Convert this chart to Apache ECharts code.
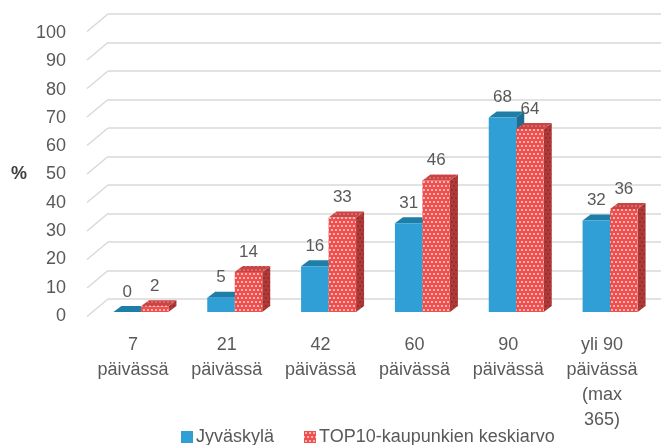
<!DOCTYPE html>
<html>
<head>
<meta charset="utf-8">
<script src="https://cdn.jsdelivr.net/npm/echarts@6/dist/echarts.min.js"></script>
<style>
html,body{margin:0;padding:0;background:#fff;}
#chart{width:661px;height:445px;}
</style>
</head>
<body>
<div id="chart"></div>
<script>
const categories = ['7\npäivässä', '21\npäivässä', '42\npäivässä', '60\npäivässä', '90\npäivässä', 'yli 90\npäivässä\n(max\n365)'];
const seriesNames = ['Jyväskylä', 'TOP10-kaupunkien keskiarvo'];
const jyvaskyla = [0, 5, 16, 31, 68, 32];
const top10 = [2, 14, 33, 46, 64, 36];
const yTicks = [0, 10, 20, 30, 40, 50, 60, 70, 80, 90, 100];

function makePattern(bg, dot) {
  const c = document.createElement('canvas');
  c.width = 8; c.height = 8;
  const g = c.getContext('2d');
  g.fillStyle = bg; g.fillRect(0, 0, 8, 8);
  g.fillStyle = dot;
  [[2, 2], [6, 2], [0, 6], [4, 6], [8, 6]].forEach(p => {
    g.beginPath(); g.arc(p[0], p[1], 0.95, 0, Math.PI * 2); g.fill();
  });
  return { image: c, repeat: 'repeat' };
}
const redFront = makePattern('#ef4f4d', '#ffe0de');
const redSide = makePattern('#b03a38', '#8c2a29');
const redTop = makePattern('#c94543', '#e27a78');

const palette = [
  { front: '#2f9fd6', top: '#1f7ea8', side: '#1b6d92' },
  { front: redFront, top: redTop, side: redSide }
];

const FONT = 'Liberation Sans';
const TXT = '#595959';

function barRenderer(si) {
  return function (params, api) {
    const idx = api.value(0), val = api.value(1);
    const base = api.coord([idx, 0]);
    const top = api.coord([idx, val]);
    const bw = api.size([1, 0])[0];
    const w = bw * 0.293;
    const x0 = si === 0 ? base[0] - w : base[0];
    const x1 = x0 + w;
    const yb = base[1], yt = top[1];
    const dx = 8, dy = -6;
    const col = palette[si];
    return {
      type: 'group',
      children: [
        { type: 'polygon', shape: { points: [[x1, yt], [x1 + dx, yt + dy], [x1 + dx, yb + dy], [x1, yb]] }, style: { fill: col.side } },
        { type: 'polygon', shape: { points: [[x0, yt], [x0 + dx, yt + dy], [x1 + dx, yt + dy], [x1, yt]] }, style: { fill: col.top } },
        { type: 'rect', shape: { x: x0, y: yt, width: w, height: yb - yt }, style: { fill: col.front } },
        { type: 'text', style: { text: String(val), x: (x0 + x1) / 2, y: yt - 20, align: 'center', verticalAlign: 'middle', fill: TXT, font: '17px "' + FONT + '"' } }
      ]
    };
  };
}

const chart = echarts.init(document.getElementById('chart'), null, { renderer: 'canvas' });
const option = {
  animation: false,
  backgroundColor: '#fff',
  textStyle: { fontFamily: FONT },
  grid: [
    { left: 108, right: 0, top: 14, height: 285 },
    { left: 86, right: 12, top: 33, height: 283 },
    { left: 94, right: 4, top: 26, height: 286 }
  ],
  xAxis: [
    { gridIndex: 0, type: 'value', min: 0, max: 1, show: false },
    { gridIndex: 1, type: 'category', data: categories, axisLine: { show: false }, axisTick: { show: false },
      axisLabel: { margin: 17, fontSize: 18, lineHeight: 25, color: TXT, fontFamily: FONT, interval: 0 } },
    { gridIndex: 2, type: 'category', data: categories, show: false }
  ],
  yAxis: [
    { gridIndex: 0, type: 'value', min: 0, max: 100, interval: 10, axisLine: { show: false }, axisTick: { show: false }, axisLabel: { show: false },
      splitLine: { show: true, lineStyle: { color: '#d9d9d9', width: 1.5 } } },
    { gridIndex: 1, type: 'value', min: 0, max: 100, interval: 10, axisLine: { show: false }, axisTick: { show: false }, splitLine: { show: false },
      axisLabel: { margin: 20, fontSize: 18, color: TXT, fontFamily: FONT },
      name: '%', nameLocation: 'middle', nameRotate: 0, nameGap: 59,
      nameTextStyle: { fontSize: 18, fontWeight: 'bold', color: '#404040', fontFamily: FONT } },
    { gridIndex: 2, type: 'value', min: 0, max: 100, show: false }
  ],
  legend: {
    data: seriesNames, left: 176, top: 423, icon: 'rect', itemWidth: 12, itemHeight: 12, itemGap: 30,
    textStyle: { fontSize: 18, color: TXT, fontFamily: FONT, padding: [0, 0, 0, -2] }
  },
  series: [
    { type: 'custom', xAxisIndex: 0, yAxisIndex: 0, silent: true, z: 1,
      data: yTicks.map(v => [0, v]),
      renderItem: function (params, api) {
        const p = api.coord([0, api.value(1)]);
        return { type: 'line', shape: { x1: p[0], y1: p[1], x2: p[0] - 21, y2: p[1] + 17.5 }, style: { stroke: '#d9d9d9', lineWidth: 1.5 } };
      } },
    { name: seriesNames[0], type: 'custom', xAxisIndex: 2, yAxisIndex: 2, z: 3,
      itemStyle: { color: palette[0].front },
      data: jyvaskyla.map((v, i) => [i, v]), renderItem: barRenderer(0) },
    { name: seriesNames[1], type: 'custom', xAxisIndex: 2, yAxisIndex: 2, z: 4,
      itemStyle: { color: redFront },
      data: top10.map((v, i) => [i, v]), renderItem: barRenderer(1) }
  ]
};
chart.setOption(option);
</script>
</body>
</html>
